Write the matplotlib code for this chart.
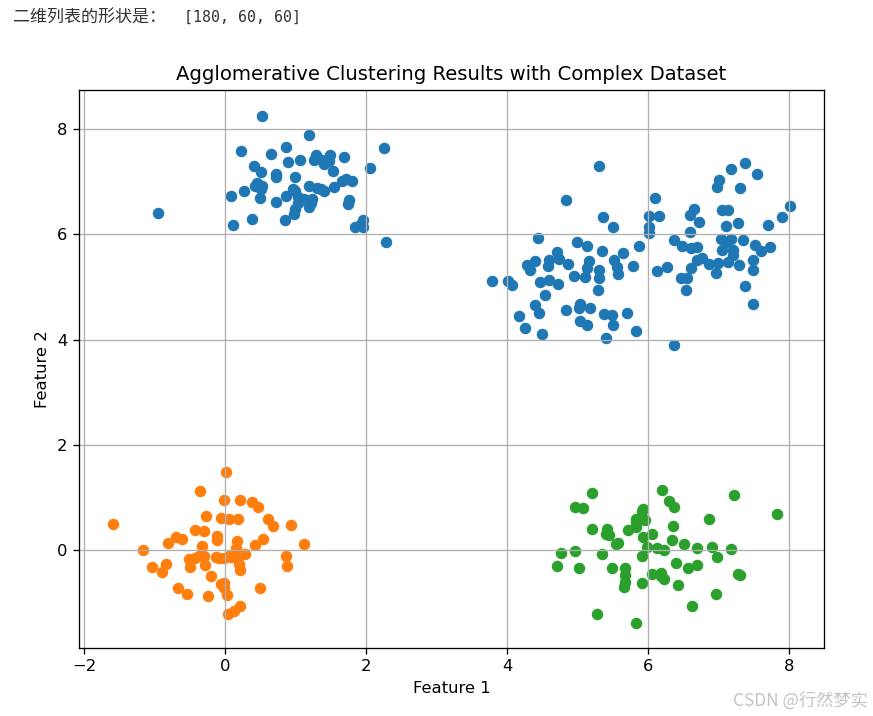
import matplotlib.pyplot as plt

# cluster 0 (blue) - three blobs
blue_x = [
    0.52, 1.19, 0.23, 0.65, 0.86, 1.29, 1.49, 1.69, 2.26, 0.90, 1.07, 1.38, 1.48, 0.41, 0.51,
    0.72, 0.73, 0.99, 1.53, 2.06, 0.46, 0.53, 0.51, 0.27, 0.09, 0.50, 0.72, 0.87, 0.99, 1.19,
    1.31, 1.40, 1.55, 1.66, 1.80, 1.03, 1.12, 1.24, 1.19, 1.00, 0.98, 1.76, 1.75, -0.95, 0.39,
    0.12, 0.85, 1.85, 1.96, 1.96, 2.28, 1.03, 1.22, 1.36, 0.43, 1.40, 1.26, 0.97, 1.71, 1.93,
    5.31, 4.83, 5.36, 5.50, 4.44, 4.99, 5.13, 5.34, 5.65, 5.87, 4.71, 4.40, 4.28, 4.33, 4.59,
    4.58, 4.73, 4.87, 5.16, 5.13, 5.30, 5.51, 5.56, 5.58, 5.78, 4.95, 5.11, 5.30, 3.78, 4.02,
    4.07, 4.47, 4.59, 4.72, 5.29, 4.54, 4.40, 4.46, 4.17, 4.25, 4.49, 4.84, 5.04, 5.02, 5.17,
    5.04, 5.13, 5.37, 5.49, 5.50, 5.70, 5.83, 5.40,
    7.38, 7.17, 7.54, 7.00, 6.98, 7.31, 6.10, 6.01, 6.15, 6.02, 6.01, 6.65, 6.59, 6.72, 7.05,
    7.14, 7.10, 7.27, 8.01, 7.90, 7.70, 6.59, 6.37, 6.48, 6.61, 6.70, 7.04, 7.17, 7.35, 7.05,
    7.21, 7.51, 7.60, 7.73, 7.21, 6.69, 6.61, 6.87, 6.99, 7.14, 7.29, 7.49, 7.49, 6.96, 6.12,
    6.27, 6.47, 6.55, 6.54, 7.37, 7.49, 6.37, 6.76, 7.11,
]
blue_y = [
    8.25, 7.89, 7.57, 7.52, 7.66, 7.50, 7.51, 7.47, 7.64, 7.36, 7.40, 7.40, 7.38, 7.30, 7.17,
    7.15, 7.08, 7.09, 7.20, 7.25, 6.98, 6.92, 6.85, 6.81, 6.72, 6.68, 6.61, 6.72, 6.82, 6.92,
    6.87, 6.82, 6.89, 7.01, 7.01, 6.70, 6.66, 6.66, 6.51, 6.47, 6.38, 6.65, 6.57, 6.40, 6.29,
    6.17, 6.26, 6.14, 6.26, 6.14, 5.85, 6.60, 6.60, 6.85, 6.92, 7.33, 7.40, 6.86, 7.05, 6.19,
    7.30, 6.64, 6.32, 6.13, 5.92, 5.86, 5.78, 5.68, 5.64, 5.78, 5.66, 5.49, 5.41, 5.32, 5.51,
    5.40, 5.53, 5.43, 5.49, 5.35, 5.32, 5.51, 5.38, 5.24, 5.40, 5.20, 5.19, 5.17, 5.11, 5.11,
    5.03, 5.10, 5.13, 5.06, 4.95, 4.85, 4.66, 4.51, 4.45, 4.22, 4.10, 4.56, 4.68, 4.59, 4.59,
    4.35, 4.27, 4.48, 4.46, 4.27, 4.51, 4.17, 4.03,
    7.35, 7.23, 7.15, 7.02, 6.90, 6.88, 6.69, 6.34, 6.35, 6.13, 6.02, 6.48, 6.36, 6.24, 6.46,
    6.46, 6.15, 6.22, 6.54, 6.32, 6.17, 6.05, 5.89, 5.78, 5.73, 5.75, 5.91, 5.91, 5.89, 5.70,
    5.70, 5.80, 5.69, 5.75, 5.61, 5.51, 5.35, 5.43, 5.45, 5.48, 5.41, 5.51, 5.32, 5.27, 5.30,
    5.38, 5.17, 5.16, 4.94, 5.01, 4.67, 3.90, 5.54, 5.86,
]

# cluster 1 (orange)
orange_x = [
    0.02, -0.36, -0.02, 0.22, 0.39, 0.47, -1.59, -0.27, -0.06, 0.06, 0.19, 0.61, 0.68, 0.93,
    -0.42, -0.30, -0.12, -0.11, 0.17, -0.70, -0.61, -0.81, 0.54, 0.43, 1.12, -1.16, -0.32,
    0.16, 0.29, -0.51, -0.42, -0.30, -0.13, -0.01, 0.08, 0.17, -0.50, -0.28, 0.20, 0.22, 0.87,
    0.88, -1.04, -0.84, -0.89, -0.20, -0.02, -0.01, -0.67, -0.54, -0.24, 0.03, 0.50, 0.21,
    0.13, 0.04, -0.08, -0.37, 0.06, -0.05,
]
orange_y = [
    1.49, 1.13, 0.95, 0.95, 0.92, 0.83, 0.51, 0.65, 0.62, 0.60, 0.60, 0.59, 0.46, 0.49,
    0.38, 0.36, 0.27, 0.20, 0.17, 0.25, 0.22, 0.14, 0.22, 0.11, 0.12, 0.00, 0.08,
    0.04, -0.06, -0.16, -0.15, -0.11, -0.13, -0.15, -0.13, -0.15, -0.31, -0.27, -0.26, -0.37, -0.10,
    -0.29, -0.32, -0.25, -0.41, -0.48, -0.62, -0.72, -0.71, -0.83, -0.86, -0.85, -0.71, -1.06,
    -1.15, -1.20, -0.15, -0.10, -0.10, -0.64,
]

# cluster 2 (green)
green_x = [
    5.20, 6.20, 7.22, 4.96, 5.07, 6.30, 6.37, 7.83, 5.92, 5.83, 5.95, 6.86, 5.21, 5.42, 5.41,
    5.45, 5.72, 5.83, 6.35, 6.06, 5.93, 6.34, 6.51, 5.55, 5.58, 6.70, 6.91, 7.17, 5.98, 6.13,
    6.22, 4.76, 4.97, 5.35, 5.92, 6.98, 4.71, 5.02, 5.49, 5.67, 6.40, 6.56, 6.70, 5.67, 6.06,
    6.19, 6.22, 7.30, 5.67, 5.66, 5.92, 6.43, 6.97, 6.62, 5.28, 5.83, 7.28, 5.93, 5.83, 6.19,
]
green_y = [
    1.09, 1.14, 1.05, 0.83, 0.80, 0.94, 0.82, 0.69, 0.74, 0.60, 0.57, 0.60, 0.41, 0.41, 0.32,
    0.29, 0.38, 0.44, 0.46, 0.32, 0.25, 0.20, 0.12, 0.13, 0.14, 0.04, 0.06, 0.03, 0.06, 0.04,
    0.01, -0.04, -0.02, -0.07, -0.11, -0.13, -0.29, -0.34, -0.34, -0.34, -0.23, -0.34, -0.27, -0.46, -0.45,
    -0.42, -0.54, -0.46, -0.59, -0.70, -0.62, -0.66, -0.83, -1.05, -1.21, -1.37, -0.45, 0.79, 0.52, -0.48,
]

clusters = [(blue_x, blue_y), (orange_x, orange_y), (green_x, green_y)]
colors = ["tab:blue", "tab:orange", "tab:green"]

DPI = 118
fig = plt.figure(figsize=(873 / DPI, 716 / DPI), dpi=DPI)
ax = fig.add_axes([0.0905, 0.095, 0.853, 0.779])

for (xs, ys), c in zip(clusters, colors):
    ax.scatter(xs, ys, color=c)

ax.set_title("Agglomerative Clustering Results with Complex Dataset")
ax.set_xlabel("Feature 1")
ax.set_ylabel("Feature 2")
ax.grid(True)

# notebook output line above the figure
fig.text(0.015, 0.976, "二维列表的形状是：", family=["Noto Sans CJK SC", "DejaVu Sans"],
         fontsize=10.4, va="center", color="#333333")
fig.text(0.211, 0.976, "[180, 60, 60]", family="DejaVu Sans Mono",
         fontsize=9.1, va="center", color="#333333")

# watermark
fig.text(0.994, 0.022, "CSDN @行然梦实", family=["Noto Sans CJK SC", "DejaVu Sans"],
         fontsize=10.5, ha="right", va="center", color="#c4c4c4")

fig.savefig("out.png", dpi=DPI)
